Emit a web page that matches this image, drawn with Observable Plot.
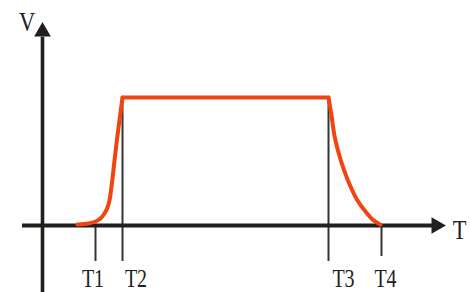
<!DOCTYPE html>
<html>
<head>
<meta charset="utf-8">
<script src="https://cdn.jsdelivr.net/npm/d3@7"></script>
<script src="https://cdn.jsdelivr.net/npm/@observablehq/plot@0.6"></script>
<style>
  html, body { margin: 0; padding: 0; background: #fff; }
</style>
</head>
<body>
<div id="chart"></div>
<script>
// Time (t) and voltage (V) samples of the curve
const riseT = [3.5, 4.6, 5.3, 5.8, 6.2, 6.5, 6.7, 6.85, 7.0, 7.2, 7.5, 7.8, 8.0];
const riseV = [0.008, 0.016, 0.031, 0.055, 0.094, 0.141, 0.195, 0.273, 0.367, 0.508, 0.703, 0.883, 1.0];
const flatT = [8.0, 28.6];
const flatV = [1.0, 1.0];
const decayT = [28.6, 28.9, 29.2, 29.6, 30.1, 30.8, 31.5, 32.3, 33.0, 33.8];
const decayV = [1.0, 0.86, 0.70, 0.57, 0.445, 0.305, 0.195, 0.109, 0.047, 0.006];

// Marker times and labels
const markerNames = ["T1", "T2", "T3", "T4"];
const markerT = [5.3, 8.0, 28.6, 33.9];
const markerTop = [0, 1, 1, 0];
const markerBottom = [-0.281, -0.281, -0.281, -0.242];
const labelT = [5.05, 9.35, 30.1, 34.3];
const labelV = -0.42;

const axisColor = "#231f1c";
const curveColor = "#f0450f";

const curve = [
  ...riseT.map((t, i) => ({t, v: riseV[i], seg: "rise"})),
  ...flatT.map((t, i) => ({t, v: flatV[i], seg: "flat"})),
  ...decayT.map((t, i) => ({t, v: decayV[i], seg: "decay"}))
];
const markers = markerNames.map((name, i) => ({
  name, t: markerT[i], top: markerTop[i], bottom: markerBottom[i], lt: labelT[i]
}));

const chart = Plot.plot({
  width: 471,
  height: 292,
  margin: 0,
  x: {domain: [-4.2, 42.9], axis: null},
  y: {domain: [-0.5234, 1.7578], axis: null},
  marks: [
    // marker lines
    Plot.ruleX(markers, {x: "t", y1: "bottom", y2: "top", stroke: "#333", strokeWidth: 2}),
    // axes
    Plot.ruleY([0], {x1: -2.0, x2: 39.4, stroke: axisColor, strokeWidth: 4}),
    Plot.ruleX([0], {y1: -0.5234, y2: 1.47, stroke: axisColor, strokeWidth: 3.6}),
    Plot.dot([{t: 0, v: 1.514}], {x: "t", y: "v", symbol: "triangle", r: 6.2, fill: axisColor, stroke: "none"}),
    Plot.dot([{t: 39.38, v: 0}], {x: "t", y: "v", symbol: "triangle", r: 6.2, rotate: 90, fill: axisColor, stroke: "none"}),
    // curve
    Plot.line(curve, {x: "t", y: "v", z: "seg", curve: "catmull-rom", stroke: curveColor, strokeWidth: 4, strokeLinecap: "round", strokeLinejoin: "round"}),
    // labels
    Plot.text(markers, {x: "lt", y: labelV, text: "name", fontSize: 25, fill: "#222", fontFamily: "Liberation Serif"}),
    Plot.text(["V"], {x: -1.55, y: 1.586, text: d => d, fontSize: 28, fill: "#222", fontFamily: "Liberation Serif"}),
    Plot.text(["T"], {x: 41.7, y: -0.039, text: d => d, fontSize: 28, fill: "#222", fontFamily: "Liberation Serif"})
  ]
});
document.getElementById("chart").appendChild(chart);

// condense the serif labels horizontally
d3.select(chart).selectAll("text").each(function() {
  const w = this.getComputedTextLength();
  if (w > 0) {
    this.setAttribute("textLength", (w * 0.8).toFixed(1));
    this.setAttribute("lengthAdjust", "spacingAndGlyphs");
  }
});
</script>
</body>
</html>
